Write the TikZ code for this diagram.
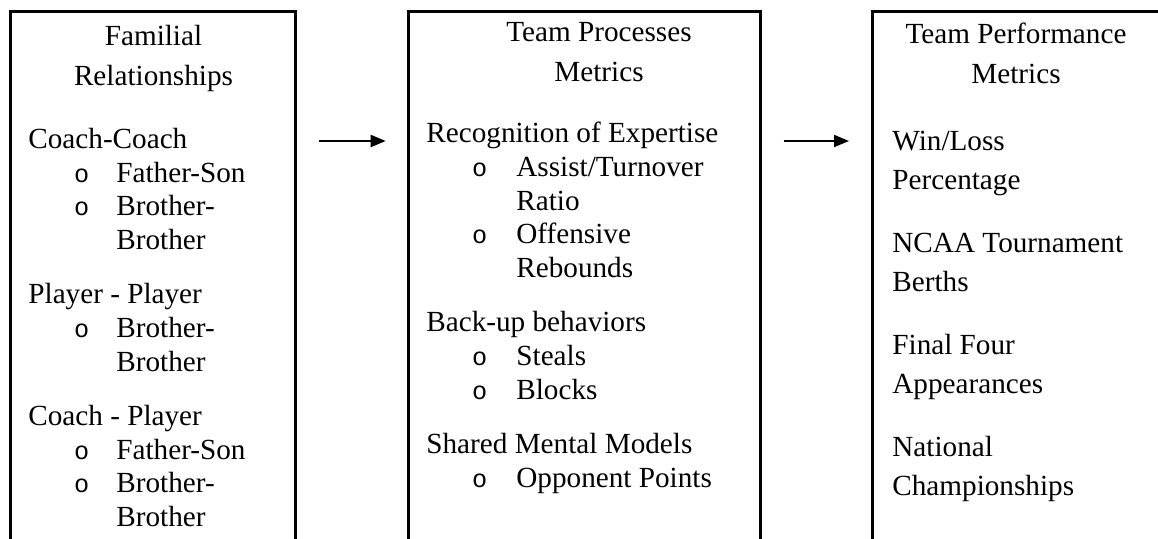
\documentclass[tikz,border=0pt]{standalone}
\usepackage{fontspec}
\setmainfont{Liberation Serif}
\newfontfamily\bulletfont{Liberation Mono}
\usepackage{tikz}
\usetikzlibrary{arrows.meta, positioning}

\newcommand{\bul}{\hspace{0.8pt}{\bulletfont\fontsize{12.6}{16.8}\selectfont o}}

\tikzset{
  box/.style={draw, line width=1.5pt, anchor=north west, inner sep=0pt, outer sep=0pt, minimum height=275pt},
  head/.style={anchor=base, inner sep=0pt, font=\fontsize{14.6}{20}\selectfont},
  list/.style={anchor=base west, inner sep=0pt, font=\fontsize{14.6}{16.8}\selectfont},
  flow/.style={draw, -{Triangle[length=7.5pt,width=6pt]}, line width=1pt, shorten <=11.5pt, shorten >=11.5pt}
}

\begin{document}
\begin{tikzpicture}[x=0.5pt, y=-0.5pt]
\useasboundingbox (0,0) rectangle (1158,539);
\clip (0,0) rectangle (1158,539);

% the three boxes, open at the bottom
\node[box, minimum width=142.75pt](fam) at (10.3,11.3) {};
\node[box, minimum width=175.9pt, right=56.45pt of fam.north east, anchor=north west](proc) {};
\node[box, minimum width=144.5pt, right=55.75pt of proc.north east, anchor=north west](perf) {};

\node[head](famhead) at (153.5,46){
\begin{tabular}[t]{@{}c@{}}
Familial\\
Relationships
\end{tabular}
};
\node[list](famlist) at (28,148.5){
\begin{tabular}[t]{@{}p{22pt}@{}p{22pt}@{}l@{}}
\multicolumn{3}{@{}l@{}}{Coach-Coach}\\
 & \bul & Father-Son\\
 & \bul & Brother-\\
 & & Brother\\[10.5pt]
\multicolumn{3}{@{}l@{}}{Player - Player}\\
 & \bul & Brother-\\
 & & Brother\\[10.5pt]
\multicolumn{3}{@{}l@{}}{Coach - Player}\\
 & \bul & Father-Son\\
 & \bul & Brother-\\
 & & Brother
\end{tabular}
};

\node[head](prochead) at (599,42){
\begin{tabular}[t]{@{}c@{}}
Team Processes\\
Metrics
\end{tabular}
};
\node[list](proclist) at (426,143){
\begin{tabular}[t]{@{}p{22pt}@{}p{23pt}@{}l@{}}
\multicolumn{3}{@{}l@{}}{Recognition of Expertise}\\
 & \bul & Assist/Turnover\\
 & & Ratio\\
 & \bul & Offensive\\
 & & Rebounds\\[10.5pt]
\multicolumn{3}{@{}l@{}}{Back-up behaviors}\\
 & \bul & Steals\\
 & \bul & Blocks\\[10.5pt]
\multicolumn{3}{@{}l@{}}{Shared Mental Models}\\
 & \bul & Opponent Points
\end{tabular}
};

\node[head](perfhead) at (1016,44){
\begin{tabular}[t]{@{}c@{}}
Team Performance\\
Metrics
\end{tabular}
};
\node[list, font=\fontsize{14.6}{19.5}\selectfont](perflist) at (892,151){
\begin{tabular}[t]{@{}l@{}}
Win/Loss\\
Percentage\\[12pt]
NCAA Tournament\\
Berths\\[12pt]
Final Four\\
Appearances\\[12pt]
National\\
Championships
\end{tabular}
};

\path[flow]([yshift=-64.85pt]fam.north east) -- ([yshift=-64.85pt]proc.north west);
\path[flow]([yshift=-64.85pt]proc.north east) -- ([yshift=-64.85pt]perf.north west);
\end{tikzpicture}
\end{document}
